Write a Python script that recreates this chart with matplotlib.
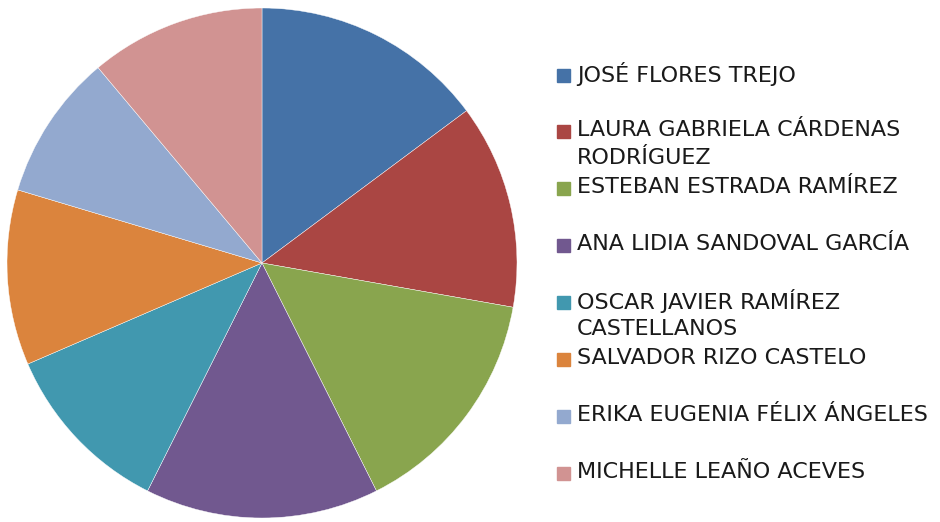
import matplotlib.pyplot as plt
from matplotlib.patches import Rectangle

# datos del grafico
nombres = [
    "JOSÉ FLORES TREJO",
    "LAURA GABRIELA CÁRDENAS\nRODRÍGUEZ",
    "ESTEBAN ESTRADA RAMÍREZ",
    "ANA LIDIA SANDOVAL GARCÍA",
    "OSCAR JAVIER RAMÍREZ\nCASTELLANOS",
    "SALVADOR RIZO CASTELO",
    "ERIKA EUGENIA FÉLIX ÁNGELES",
    "MICHELLE LEAÑO ACEVES",
]
valores = [8, 7, 8, 8, 6, 6, 5, 6]
colores = ["#4572A7", "#AA4643", "#89A54E", "#71588F",
           "#4198AF", "#DB843D", "#93A9CF", "#D19392"]

W, H = 940, 522
fig = plt.figure(figsize=(W / 100, H / 100), dpi=100)

# pie: centro (262, 263) px, radio 255 px
cx, cy, r = 262, 263, 255
ax = fig.add_axes([(cx - r) / W, (H - cy - r) / H, 2 * r / W, 2 * r / H])
ax.pie(valores, colors=colores, startangle=90, counterclock=False,
       radius=1, wedgeprops={"linewidth": 0.3, "edgecolor": "white"})
ax.set_xlim(-1, 1)
ax.set_ylim(-1, 1)
ax.set_aspect("equal")
ax.axis("off")

# leyenda manual (una ranura por entrada, las lineas extra caen debajo)
y0, paso, interlinea = 74.5, 56.9, 28
for i, (nombre, col) in enumerate(zip(nombres, colores)):
    y = y0 + paso * i
    fig.patches.append(Rectangle((557 / W, (H - y - 7) / H), 13 / W, 13 / H,
                                 transform=fig.transFigure, color=col))
    for j, linea in enumerate(nombre.split("\n")):
        fig.text(577 / W, (H - y + 3 - j * interlinea) / H, linea, fontsize=16,
                 color="#1a1a1a", va="center_baseline", ha="left")

fig.savefig("out.png", dpi=100)
